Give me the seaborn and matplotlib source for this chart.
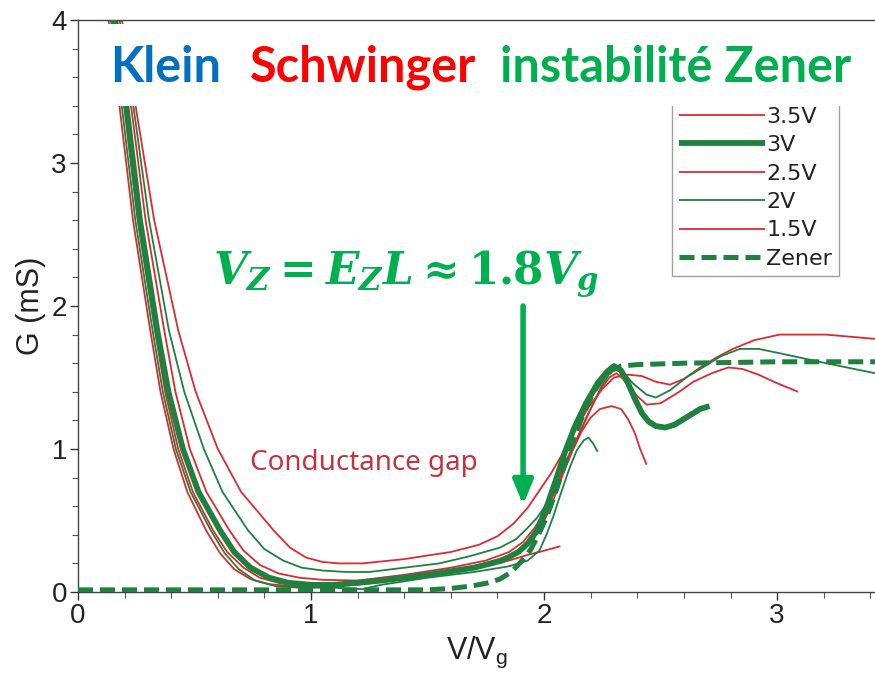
import matplotlib
matplotlib.use("Agg")
import matplotlib.pyplot as plt
from matplotlib.patches import Rectangle
import seaborn as sns
import pandas as pd

# ---- measured conductance G (mS) vs normalised bias V/Vg ----
v35_x = [0.13, 0.23, 0.29, 0.37, 0.418, 0.48, 0.551, 0.65, 0.71, 0.78, 0.86, 0.95, 1.05, 1.20, 1.40, 1.60, 1.75,
         1.85, 1.91, 1.96, 2.00, 2.04, 2.09, 2.14, 2.19, 2.24, 2.28, 2.31, 2.34, 2.37, 2.40, 2.44, 2.50, 2.58, 2.64,
         2.72, 2.79, 2.85, 2.92, 3.00, 3.09]
v35_y = [4.40, 3.37, 2.60, 1.83, 1.40, 1.00, 0.70, 0.43, 0.29, 0.19, 0.13, 0.10, 0.085, 0.08, 0.12, 0.17, 0.22,
         0.28, 0.35, 0.45, 0.55, 0.68, 0.88, 1.07, 1.25, 1.41, 1.50, 1.53, 1.49, 1.43, 1.37, 1.31, 1.32, 1.40, 1.47,
         1.53, 1.57, 1.56, 1.52, 1.46, 1.40]

v3_x = [0.12, 0.21, 0.266, 0.34, 0.388, 0.45, 0.517, 0.61, 0.67, 0.74, 0.82, 0.90, 1.00, 1.10, 1.30, 1.50, 1.70,
        1.82, 1.89, 1.93, 1.97, 2.01, 2.05, 2.09, 2.13, 2.18, 2.23, 2.27, 2.30, 2.33, 2.36, 2.39, 2.42, 2.45, 2.48,
        2.52, 2.56, 2.61, 2.67, 2.71]
v3_y = [4.40, 3.37, 2.60, 1.83, 1.40, 1.00, 0.70, 0.43, 0.28, 0.17, 0.10, 0.065, 0.05, 0.05, 0.08, 0.12, 0.17,
        0.22, 0.28, 0.34, 0.43, 0.59, 0.78, 0.98, 1.15, 1.32, 1.46, 1.54, 1.58, 1.55, 1.46, 1.35, 1.25, 1.19, 1.16,
        1.15, 1.17, 1.22, 1.28, 1.30]

v25_x = [0.12, 0.20, 0.256, 0.33, 0.374, 0.43, 0.493, 0.58, 0.64, 0.71, 0.78, 0.87, 1.00, 1.20, 1.40, 1.60, 1.75,
         1.86, 1.93, 1.98, 2.03, 2.08, 2.12, 2.16, 2.20, 2.24, 2.29, 2.33, 2.36, 2.39, 2.41, 2.44]
v25_y = [4.40, 3.37, 2.60, 1.83, 1.40, 1.00, 0.70, 0.43, 0.28, 0.17, 0.10, 0.06, 0.05, 0.07, 0.11, 0.15, 0.20,
         0.26, 0.33, 0.43, 0.60, 0.82, 0.98, 1.12, 1.22, 1.28, 1.30, 1.28, 1.21, 1.11, 1.01, 0.89]

v2_x = [0.11, 0.19, 0.246, 0.32, 0.364, 0.42, 0.483, 0.57, 0.63, 0.69, 0.76, 0.85, 0.95, 1.10, 1.22, 1.30, 1.50,
        1.70, 1.85, 1.93, 1.98, 2.01, 2.04, 2.07, 2.11, 2.14, 2.17, 2.19, 2.21, 2.23]
v2_y = [4.40, 3.37, 2.60, 1.83, 1.40, 1.00, 0.70, 0.43, 0.27, 0.16, 0.08, 0.04, 0.03, 0.03, 0.02, 0.05, 0.10,
        0.14, 0.18, 0.22, 0.29, 0.40, 0.53, 0.68, 0.87, 0.99, 1.06, 1.08, 1.04, 0.98]

v15_x = [0.10, 0.18, 0.236, 0.31, 0.354, 0.41, 0.469, 0.55, 0.61, 0.67, 0.74, 0.82, 0.92, 1.05, 1.20, 1.35, 1.50,
         1.70, 1.85, 1.93, 1.98, 2.07]
v15_y = [4.40, 3.37, 2.60, 1.83, 1.40, 1.00, 0.70, 0.43, 0.27, 0.16, 0.09, 0.055, 0.04, 0.04, 0.05, 0.08, 0.12,
         0.17, 0.22, 0.26, 0.28, 0.32]

# two further sweeps drawn without a legend entry
hi_red_x = [0.15, 0.25, 0.327, 0.43, 0.505, 0.60, 0.70, 0.84, 0.91, 0.98, 1.05, 1.12, 1.22, 1.40, 1.60, 1.72, 1.80,
            1.87, 1.93, 1.98, 2.03, 2.08, 2.13, 2.19, 2.25, 2.30, 2.36, 2.42, 2.48, 2.54, 2.60, 2.67, 2.74, 2.81,
            2.90, 3.01, 3.21, 3.42]
hi_red_y = [4.40, 3.37, 2.60, 1.83, 1.40, 1.00, 0.70, 0.43, 0.31, 0.24, 0.21, 0.20, 0.20, 0.23, 0.28, 0.33, 0.39,
            0.48, 0.59, 0.71, 0.83, 0.97, 1.12, 1.29, 1.42, 1.50, 1.52, 1.51, 1.47, 1.45, 1.49, 1.57, 1.64, 1.70,
            1.76, 1.80, 1.80, 1.77]

hi_green_x = [0.14, 0.24, 0.305, 0.39, 0.456, 0.54, 0.62, 0.73, 0.80, 0.88, 0.96, 1.05, 1.15, 1.25, 1.40, 1.55,
              1.68, 1.81, 1.88, 1.93, 1.97, 2.00, 2.04, 2.07, 2.11, 2.15, 2.20, 2.25, 2.29, 2.32, 2.35, 2.38, 2.44,
              2.48, 2.54, 2.61, 2.68, 2.76, 2.84, 2.92, 3.01, 3.21, 3.42]
hi_green_y = [4.40, 3.37, 2.60, 1.83, 1.40, 1.00, 0.70, 0.43, 0.30, 0.22, 0.17, 0.15, 0.14, 0.14, 0.17, 0.20,
              0.25, 0.31, 0.37, 0.45, 0.52, 0.59, 0.71, 0.83, 0.97, 1.10, 1.28, 1.45, 1.55, 1.57, 1.52, 1.46, 1.38,
              1.36, 1.41, 1.50, 1.57, 1.65, 1.70, 1.70, 1.67, 1.60, 1.53]

# Zener tunnelling model
zener_x = [0.00, 1.50, 1.60, 1.68, 1.75, 1.81, 1.86, 1.90, 1.94, 1.97, 2.01, 2.05, 2.09, 2.13, 2.17, 2.21, 2.25,
           2.29, 2.33, 2.40, 2.60, 3.00, 3.45]
zener_y = [0.015, 0.015, 0.025, 0.04, 0.06, 0.09, 0.14, 0.21, 0.29, 0.38, 0.52, 0.70, 0.90, 1.08, 1.25, 1.39, 1.49,
           1.55, 1.58, 1.59, 1.60, 1.61, 1.61]

RED = "#dc2a30"
GREEN = "#1f8040"
BRIGHT_GREEN = "#00b050"

sns.set_theme(style="ticks")
narrow = ["Liberation Sans Narrow", "Liberation Sans", "DejaVu Sans"]
plt.rcParams["font.family"] = narrow
plt.rcParams["mathtext.fontset"] = "custom"
plt.rcParams["mathtext.it"] = "DejaVu Serif:italic:bold"
plt.rcParams["mathtext.rm"] = "DejaVu Serif:bold"
plt.rcParams["mathtext.bf"] = "DejaVu Serif:bold"

W, H = 875, 677
fig = plt.figure(figsize=(W / 100, H / 100), dpi=100)
ax = fig.add_axes([78 / W, 1 - 592 / H, (W - 78) / W, (592 - 20) / H])


def draw(xs, ys, color, lw, label, z=2, dashes=None):
    df = pd.DataFrame({"x": xs, "y": ys})
    line = sns.lineplot(data=df, x="x", y="y", color=color, linewidth=lw, ax=ax, sort=False,
                        estimator=None, legend=False, zorder=z).lines[-1]
    if dashes is not None:
        line.set_dashes(dashes)
    line.set_label(label)
    line.set_solid_capstyle("butt")
    line.set_solid_joinstyle("round")
    return line


draw(hi_red_x, hi_red_y, RED, 1.3, "_extra1")
draw(hi_green_x, hi_green_y, GREEN, 1.3, "_extra2")
h15 = draw(v15_x, v15_y, RED, 1.3, "1.5V")
h2 = draw(v2_x, v2_y, GREEN, 1.3, "2V")
h25 = draw(v25_x, v25_y, RED, 1.3, "2.5V")
h35 = draw(v35_x, v35_y, RED, 1.3, "3.5V")
h3 = draw(v3_x, v3_y, GREEN, 4.2, "3V", z=3)
hz = draw(zener_x, zener_y, GREEN, 3.6, "Zener", z=4, dashes=(3, 1.4))

ax.set_xlim(0, 3.42)
ax.set_ylim(0, 4)
ax.set_xticks([0, 1, 2, 3])
ax.set_xticks([i * 0.2 for i in range(18)], minor=True)
ax.set_yticks([0, 1, 2, 3, 4])
ax.set_yticks([i * 0.2 for i in range(21)], minor=True)
ax.tick_params(axis="both", which="major", length=6, width=1, labelsize=20, color="#333333", pad=2)
ax.tick_params(axis="both", which="minor", length=4, width=0.8, color="#555555")
for lab in ax.get_xticklabels() + ax.get_yticklabels():
    lab.set_color("#222222")
ax.spines["right"].set_visible(False)
for s in ("left", "bottom", "top"):
    ax.spines[s].set_color("#444444")
    ax.spines[s].set_linewidth(1.0)
ax.set_xlabel(r"V/V$_\mathregular{g}$", fontsize=22, color="#222222", labelpad=4)
ax.set_ylabel("G (mS)", fontsize=22, color="#222222", labelpad=4)

ax.text(0.74, 0.9, "Conductance gap", color="#c8323c", fontsize=20, va="center", ha="left",
        family=["Noto Sans", "DejaVu Sans"])

# arrow marking the Zener threshold
ax.annotate("", xy=(1.91, 0.61), xytext=(1.91, 2.0),
            arrowprops=dict(arrowstyle="-|>,head_length=1.2,head_width=0.5", color=BRIGHT_GREEN,
                            lw=4, shrinkA=0, shrinkB=0), zorder=6)
fig.text(213 / W, 1 - 284 / H, r"$V_Z = E_Z L \approx 1.8V_g$", color=BRIGHT_GREEN, fontsize=31.5,
         ha="left", va="baseline")

# headline over the plot
fig.patches.append(Rectangle((100 / W, 1 - 106 / H), 770 / W, 82 / H, transform=fig.transFigure,
                             facecolor="white", edgecolor="none", zorder=5))
title_font = dict(family=["Lato", "DejaVu Sans"], weight="bold", fontsize=35, va="baseline", ha="left",
                  zorder=7)
fig.text(110 / W, 1 - 82 / H, "Klein", color="#0070c0", **title_font)
fig.text(250 / W, 1 - 82 / H, "Schwinger", color="#ff0000", **title_font)
fig.text(500 / W, 1 - 82 / H, "instabilité Zener", color="#00b050", **title_font)

leg = ax.legend(handles=[h35, h3, h25, h2, h15, hz], loc="upper left",
                bbox_to_anchor=(672 / W, 1 - 100 / H), bbox_transform=fig.transFigure,
                prop=dict(family=["DejaVu Sans"], size=16), handlelength=3.9, handletextpad=0.05,
                labelspacing=0.38, borderpad=0.3, frameon=True, fancybox=False, borderaxespad=0)
leg.get_frame().set_edgecolor("#888888")
leg.get_frame().set_linewidth(1.0)
for t in leg.get_texts():
    t.set_color("#222222")
leg.set_zorder(8)

fig.savefig("out.png", dpi=100)
